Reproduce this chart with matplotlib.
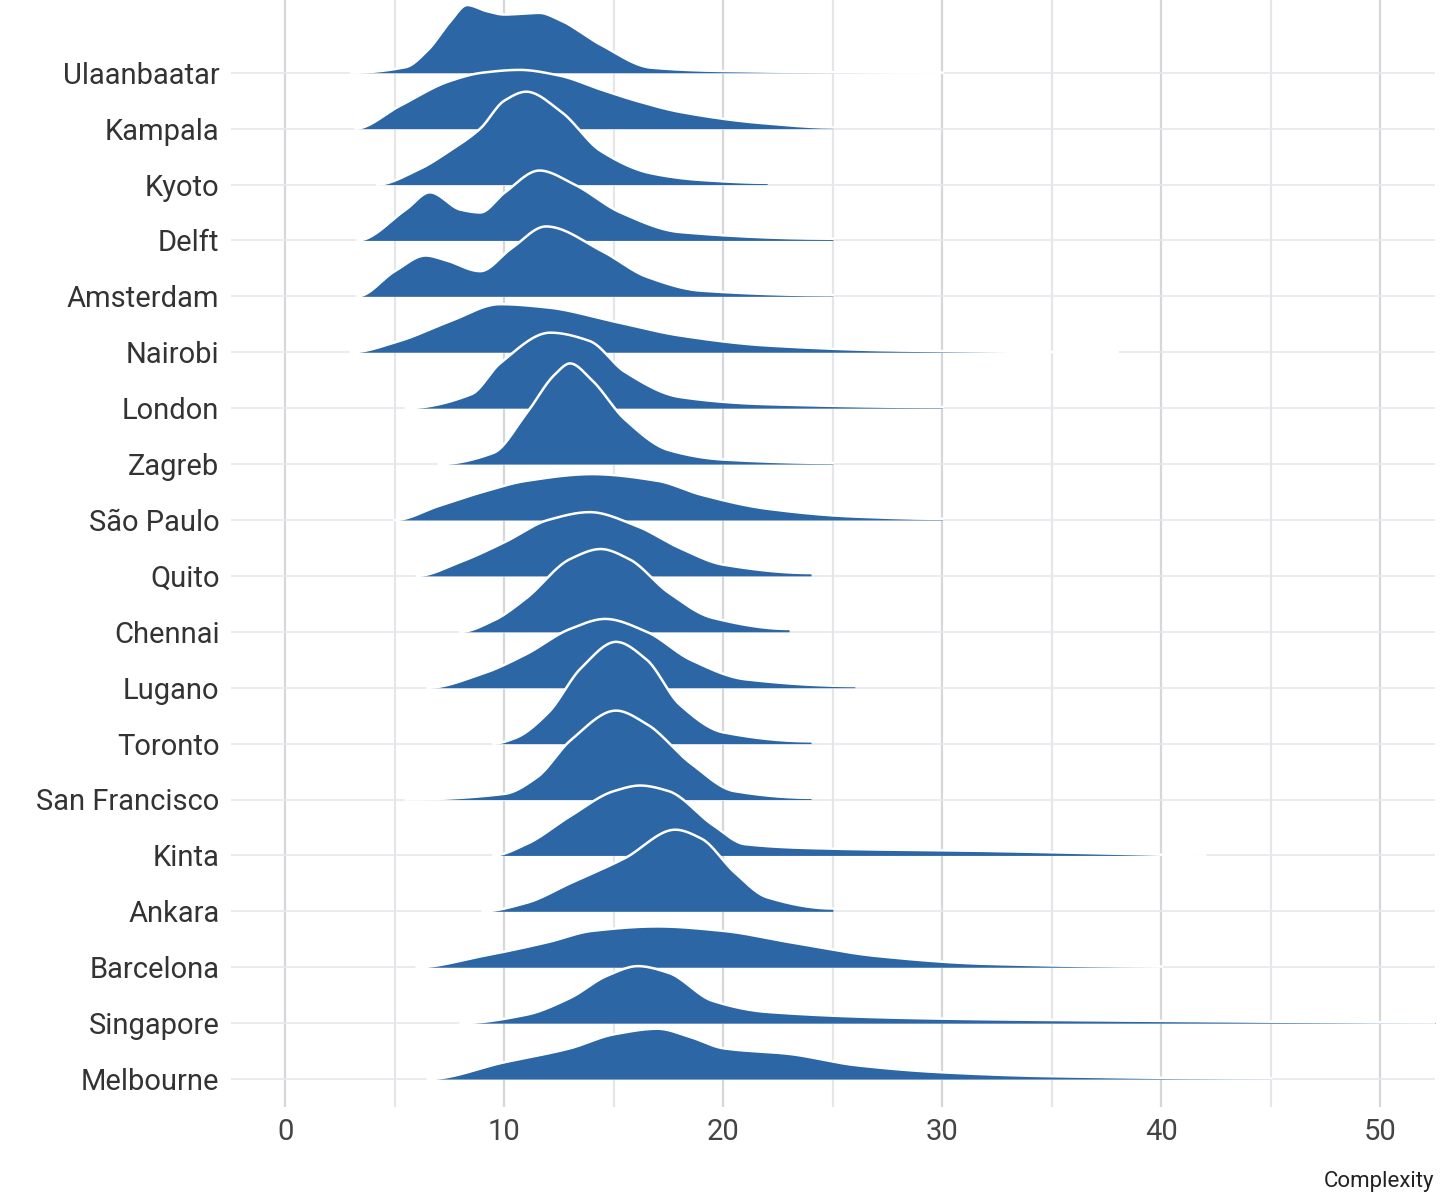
import matplotlib
matplotlib.use("Agg")
import matplotlib.pyplot as plt
import numpy as np

cities = ["Ulaanbaatar","Kampala","Kyoto","Delft","Amsterdam","Nairobi","London","Zagreb",
          "São Paulo","Quito","Chennai","Lugano","Toronto","San Francisco","Kinta","Ankara",
          "Barcelona","Singapore","Melbourne"]

# (x, ridge height in row units)
ulaanbaatar_x = [3,5.5,6.5,7.5,8.3,9.2,10,11.6,12.5,14.4,16.7,20,30]
ulaanbaatar_h = [0,0.1,0.4,0.9,1.21,1.1,1.04,1.07,0.95,0.5,0.09,0.03,0]
kampala_x = [3.2,5.2,7.5,9,10.7,12.5,14.4,16,18,21.7,25]
kampala_h = [0,0.4,0.85,1.0,1.05,0.95,0.7,0.5,0.3,0.1,0.02]
kyoto_x = [4.2,6,7.5,8.9,10,11,12.6,14.4,16.7,19,22]
kyoto_h = [0,0.25,0.6,1.0,1.5,1.66,1.3,0.6,0.2,0.08,0.03]
delft_x = [3.3,5.5,6.6,8,8.9,10,11.6,13.2,15.3,18,25]
delft_h = [0,0.55,0.86,0.55,0.5,0.85,1.25,1.0,0.5,0.15,0.03]
amsterdam_x = [3.3,5,6.4,7.3,8.9,10.3,11.9,14.5,16.5,19,25]
amsterdam_h = [0,0.45,0.73,0.65,0.45,0.85,1.25,0.8,0.35,0.1,0.02]
nairobi_x = [3,5.2,7.5,9.8,12,15,18,22,28,38]
nairobi_h = [0,0.2,0.55,0.86,0.8,0.55,0.3,0.12,0.03,0]
london_x = [5.5,8.5,9.8,12.1,13.9,15.5,18,22,30]
london_h = [0,0.25,0.8,1.35,1.2,0.65,0.2,0.07,0.02]
zagreb_x = [7,9.5,11,12.3,13,14,15.5,17.5,20,25]
zagreb_h = [0,0.2,0.9,1.6,1.8,1.5,0.8,0.25,0.08,0.02]
saopaulo_x = [5,7,9,11,14,17,19,22,26,30]
saopaulo_h = [0,0.25,0.5,0.7,0.82,0.7,0.45,0.2,0.06,0.02]
quito_x = [6,8,10,12,13.9,16,18,20,24]
quito_h = [0,0.25,0.6,1.0,1.14,0.9,0.5,0.2,0.05]
chennai_x = [8,9.5,11,13,14.4,15.7,17.5,19.5,23]
chennai_h = [0,0.2,0.6,1.3,1.48,1.3,0.7,0.25,0.05]
lugano_x = [6.5,9,11,13,14.6,16.5,18.5,21,26]
lugano_h = [0,0.25,0.6,1.05,1.23,1.0,0.5,0.15,0.03]
toronto_x = [9.5,10.5,12,13.5,15.1,16.5,18,20,24]
toronto_h = [0,0.1,0.55,1.35,1.82,1.5,0.7,0.2,0.04]
sanfrancisco_x = [5.5,10,11.5,13,15.1,16.5,18.5,20.5,24]
sanfrancisco_h = [0,0.1,0.4,1.05,1.59,1.35,0.65,0.15,0.03]
kinta_x = [9.5,11,13,15,16.2,17.5,19.5,21,25,32,38,42]
kinta_h = [0,0.2,0.7,1.15,1.25,1.15,0.55,0.2,0.12,0.08,0.03,0]
ankara_x = [9,11,13,15.5,17.8,19,20.5,22,25]
ankara_h = [0,0.15,0.5,0.95,1.46,1.3,0.7,0.25,0.05]
barcelona_x = [6,9,12,14,17,20,23,27,32,40]
barcelona_h = [0,0.2,0.45,0.65,0.73,0.65,0.45,0.2,0.06,0.01]
singapore_x = [8,11,13,14.7,16.1,17.5,19.5,22,30,40,52.5]
singapore_h = [0,0.15,0.45,0.85,1.02,0.9,0.4,0.2,0.08,0.04,0.01]
melbourne_x = [6.5,10,13,15,17,18.5,20,23,26,30,35,45]
melbourne_h = [0,0.3,0.55,0.8,0.9,0.75,0.55,0.45,0.25,0.12,0.05,0.01]

series = [(ulaanbaatar_x,ulaanbaatar_h),(kampala_x,kampala_h),(kyoto_x,kyoto_h),(delft_x,delft_h),
          (amsterdam_x,amsterdam_h),(nairobi_x,nairobi_h),(london_x,london_h),(zagreb_x,zagreb_h),
          (saopaulo_x,saopaulo_h),(quito_x,quito_h),(chennai_x,chennai_h),(lugano_x,lugano_h),
          (toronto_x,toronto_h),(sanfrancisco_x,sanfrancisco_h),(kinta_x,kinta_h),(ankara_x,ankara_h),
          (barcelona_x,barcelona_h),(singapore_x,singapore_h),(melbourne_x,melbourne_h)]
xticks = [0,10,20,30,40,50]


def smooth(xs, ys, n=400):
    """Monotone cubic (Fritsch-Carlson) rendering of the read points."""
    x = np.asarray(xs, float); y = np.asarray(ys, float)
    h = np.diff(x); d = np.diff(y) / h
    m = np.zeros_like(y)
    for k in range(1, len(x) - 1):
        if d[k-1] * d[k] > 0:
            w1 = 2*h[k] + h[k-1]; w2 = h[k] + 2*h[k-1]
            m[k] = (w1 + w2) / (w1/d[k-1] + w2/d[k])
    xx = np.linspace(x[0], x[-1], n)
    idx = np.clip(np.searchsorted(x, xx) - 1, 0, len(x) - 2)
    t = (xx - x[idx]) / h[idx]
    h00 = 2*t**3 - 3*t**2 + 1; h10 = t**3 - 2*t**2 + t
    h01 = -2*t**3 + 3*t**2; h11 = t**3 - t**2
    yy = h00*y[idx] + h10*h[idx]*m[idx] + h01*y[idx+1] + h11*h[idx]*m[idx+1]
    return xx, yy

plt.rcParams['font.family'] = ['Roboto', 'DejaVu Sans']
fig = plt.figure(figsize=(14.41,12), dpi=100)
ax = fig.add_axes([0.16, 0.0775, 0.836, 0.9225])
n = len(cities)
color = "#2d66a4"
for i,(name,(xs,hs)) in enumerate(zip(cities,series)):
    base = n-1-i
    ax.axhline(base, color="#e6e8ec", lw=1.2, zorder=0.5)
    z = 2+i
    sx, sy = smooth(xs, hs)
    ax.fill_between(sx, base, base+sy, color=color, lw=0, zorder=z)
    ax.plot(sx, base+sy, color="white", lw=1.8, zorder=z+0.1)
for v in range(0, 55, 5):
    ax.axvline(v, color="#d5d7db" if v%10==0 else "#e4e6ea", lw=1.6, zorder=0.4)
ax.set_xlim(-2.5, 52.5)
ax.set_ylim(-0.5, n-1+1.3)
ax.set_yticks(range(n))
ax.set_yticklabels(cities[::-1], fontsize=21, color="#333333")
ax.set_xticks(xticks)
ax.set_xticklabels([str(t) for t in xticks], fontsize=21, color="#444444")
ax.tick_params(length=0, pad=8)
for s in ax.spines.values():
    s.set_visible(False)
fig.text(0.995, 0.007, "Complexity", ha="right", va="bottom", fontsize=16, color="#222222")
fig.savefig("out.png", dpi=100)
